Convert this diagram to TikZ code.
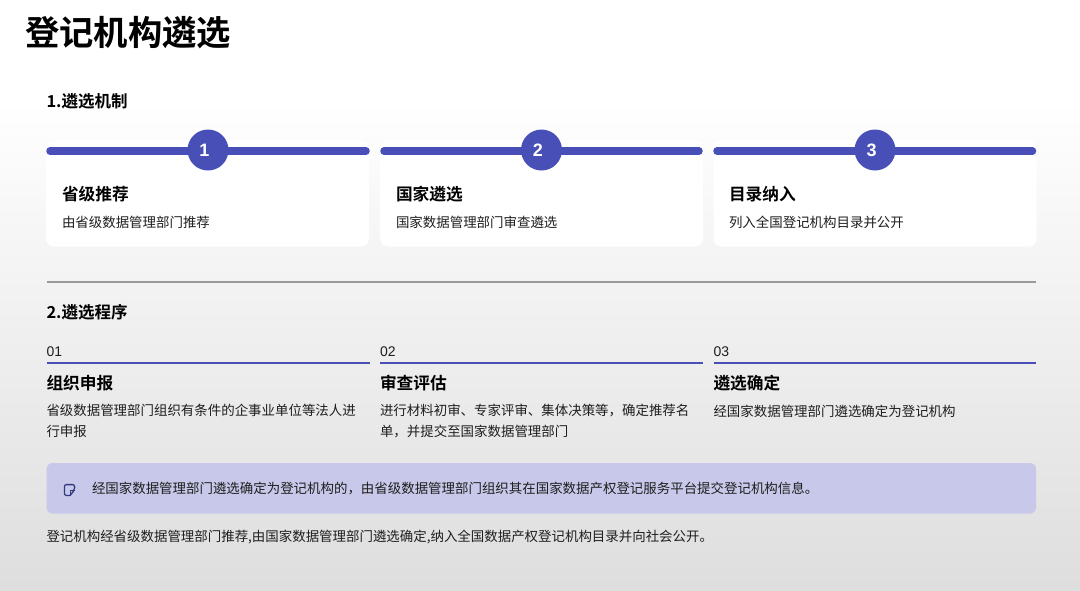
\documentclass[tikz,border=0pt]{standalone}
\usepackage{fontspec}
\setmainfont{Noto Sans CJK SC}[BoldFont={Noto Sans CJK SC Bold}]
\newfontfamily\latn{Liberation Sans}
\definecolor{indigo}{HTML}{4850B8}
\definecolor{lilac}{HTML}{C8C9EA}
\definecolor{ink}{HTML}{1E1E1E}
\tikzset{
  x=1pt,y=-1pt,
  txt/.style={anchor=base west,inner sep=0pt,outer sep=0pt,text=ink,font=\fontsize{13.45}{21}\selectfont,align=left},
  head/.style={anchor=base west,inner sep=0pt,outer sep=0pt,text=black,font=\fontsize{16.5}{20}\selectfont\bfseries},
  ctitle/.style={anchor=base west,inner sep=0pt,outer sep=0pt,text=black,font=\fontsize{16.7}{20}\selectfont\bfseries},
  num/.style={anchor=base west,inner sep=0pt,outer sep=0pt,text=ink,font=\fontsize{14}{16}\selectfont\latn},
  card/.style={fill=white,rounded corners=8pt,draw=none},
  bar/.style={line width=7.5pt,line cap=round,draw=indigo},
  thin/.style={line width=2pt,draw=indigo},
  circ/.style={circle,fill=indigo,minimum size=41pt,inner sep=0pt,text=white,font=\fontsize{18}{20}\selectfont\latn\bfseries},
  iconline/.style={line width=1.3pt,draw=indigo!70!black,line join=round,line cap=round},
}
\begin{document}
\begin{tikzpicture}
\useasboundingbox (0,0) rectangle (1080,590);
\fill[white] (0,0) rectangle (1080,120);
\shade[top color=white,bottom color=black!13] (0,100) rectangle (1080,590);

\node[anchor=base west,inner sep=0pt,font=\fontsize{34.3}{38}\selectfont\bfseries,text=black] (title) at (25,45.5) {登记机构遴选};
\node[head] (h1) at (46.5,107.2) {1.遴选机制};

% cards
\foreach \x in {46,380,713.5}{
  \fill[card] (\x,140) rectangle ++(323,106.5);
}
\coordinate (a1) at (50,151); \coordinate (a2) at (366,151);
\coordinate (b1) at (384,151); \coordinate (b2) at (699,151);
\coordinate (c1) at (717,151); \coordinate (c2) at (1032.5,151);
\draw[bar] (a1) -- (a2);
\draw[bar] (b1) -- (b2);
\draw[bar] (c1) -- (c2);
\node[circ] (n1) at (208,150) {\raisebox{-1pt}{\kern-7pt 1}};
\node[circ] (n2) at (541.5,150) {\raisebox{-1pt}{\kern-7pt 2}};
\node[circ] (n3) at (875,150) {\raisebox{-1pt}{\kern-7pt 3}};

\node[ctitle] (t1) at (62,200.2) {省级推荐};
\node[ctitle] (t2) at (396,200.2) {国家遴选};
\node[ctitle] (t3) at (729,200.2) {目录纳入};
\node[txt] (d1) at (62,227) {由省级数据管理部门推荐};
\node[txt] (d2) at (396,227) {国家数据管理部门审查遴选};
\node[txt] (d3) at (729,227) {列入全国登记机构目录并公开};

% divider
\coordinate (s1) at (46.5,282); \coordinate (s2) at (1036,282);
\draw[line width=2pt,draw=black!40] (s1) -- (s2);

\node[head] (h2) at (46.5,318.7) {2.遴选程序};

\node[num] (p1) at (46.5,356) {01};
\node[num] (p2) at (380,356) {02};
\node[num] (p3) at (713.5,356) {03};
\coordinate (l1a) at (46.5,363); \coordinate (l1b) at (370,363);
\coordinate (l2a) at (380,363); \coordinate (l2b) at (703,363);
\coordinate (l3a) at (713.5,363); \coordinate (l3b) at (1036,363);
\draw[thin] (l1a) -- (l1b);
\draw[thin] (l2a) -- (l2b);
\draw[thin] (l3a) -- (l3b);

\node[ctitle] (q1) at (46.5,389.2) {组织申报};
\node[ctitle] (q2) at (380,389.2) {审查评估};
\node[ctitle] (q3) at (713.5,389.2) {遴选确定};
\node[txt] (r1) at (46.5,436.5) {省级数据管理部门组织有条件的企事业单位等法人进\\行申报};
\node[txt] (r2) at (380,436.5) {进行材料初审、专家评审、集体决策等，确定推荐名\\单，并提交至国家数据管理部门};
\node[txt] (r3) at (713.5,416) {经国家数据管理部门遴选确定为登记机构};

% note
\fill[lilac,rounded corners=6pt] (46.5,463) rectangle (1036,513.5);
\draw[iconline]
  (69.5,484.6) [rounded corners=2pt] -- (74.6,484.6) -- (74.6,489.8)
  [sharp corners] -- (70.2,495.4)
  [rounded corners=2pt] -- (64.4,495.4) -- (64.4,484.6) -- (69.5,484.6);
\draw[iconline] (74.2,490.4) -- (70.8,490.4) -- (70.8,495);
\node[txt] (note) at (92,493) {经国家数据管理部门遴选确定为登记机构的，由省级数据管理部门组织其在国家数据产权登记服务平台提交登记机构信息。};

\node[txt] (foot) at (46.5,541.5) {登记机构经省级数据管理部门推荐,由国家数据管理部门遴选确定,纳入全国数据产权登记机构目录并向社会公开。};
\end{tikzpicture}
\end{document}
